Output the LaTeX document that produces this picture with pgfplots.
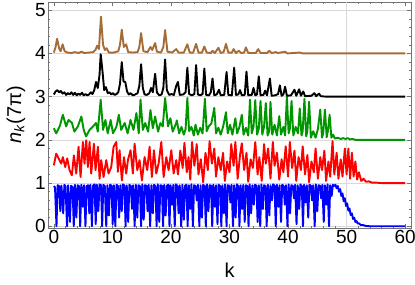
\documentclass[border=0pt]{standalone}
\usepackage{fontspec}
\setmainfont{Liberation Sans}
\usepackage{pgfplots}
\pgfplotsset{compat=1.18}
\definecolor{cbrown}{RGB}{165,108,55}
\definecolor{cgreen}{RGB}{0,150,0}
\begin{document}
\begin{tikzpicture}
\begin{axis}[
  scale only axis, width=363pt, height=226pt,
  xmin=-1, xmax=61, ymin=-0.04, ymax=5.19,
  xtick={0,10,...,60}, ytick={0,1,...,5},
  minor x tick num=4, minor y tick num=4,
  tick align=inside,
  major tick length=4.5pt, minor tick length=2.5pt,
  axis line style={black!55, line width=0.6pt},
  every tick/.style={black!55, line width=0.5pt},
  ymajorgrids, grid style={gray!30, line width=0.6pt},
  extra x ticks={50}, extra x tick labels={},
  extra x tick style={grid=major, major tick length=0pt},
  /pgf/number format/assume math mode=true,
  ticklabel style={font=\fontsize{19}{19}\selectfont},
  xticklabel style={inner sep=2pt},
  yticklabel style={inner sep=2pt},
  xlabel={k}, ylabel={\textit{n}\textsubscript{\textit{k}}(7π)},
  label style={font=\fontsize{20}{20}\selectfont},
  x label style={at={(axis description cs:0.5,-0.188)}, anchor=center},
  y label style={at={(axis description cs:-0.088,0.5)}, anchor=center, rotate=0},
  every axis plot/.append style={no markers, line width=1.9pt, line join=round},
]
% blue
\addplot[blue] coordinates {
(0,0.93)(0.2,0.9)(0.45,0.0)(0.65,0.95)(0.9,0.93)(1.1,0.35)(1.3,0.94)(1.6,0.3)(1.8,0.96)(2.0,0.92)
(2.25,0.0)(2.45,0.95)(2.75,0.1)(2.95,0.94)(3.2,0.9)(3.4,0.0)(3.6,0.96)(3.85,0.2)(4.05,0.95)(4.3,0.93)
(4.5,0.0)(4.7,0.96)(4.95,0.45)(5.15,0.95)(5.4,0.0)(5.6,0.93)(5.85,0.95)(6.05,0.3)(6.25,0.96)(6.5,0.0)
(6.7,0.94)(6.95,0.97)(7.15,0.05)(7.35,0.96)(7.6,0.35)(7.8,0.97)(8.05,0.95)(8.25,0.0)(8.45,0.96)(8.7,0.93)
(8.95,0.0)(9.15,0.95)(9.4,0.25)(9.6,0.96)(9.85,0.94)(10.05,0.05)(10.25,0.95)(10.5,0.0)(10.7,0.96)(10.95,0.93)
(11.15,0.2)(11.35,0.95)(11.6,0.35)(11.8,0.97)(12.05,0.94)(12.25,0.0)(12.45,0.95)(12.7,0.1)(12.9,0.96)(13.15,0.93)
(13.35,0.4)(13.55,0.95)(13.8,0.0)(14.0,0.96)(14.25,0.2)(14.45,0.95)(14.7,0.93)(14.9,0.0)(15.1,0.97)(15.35,0.15)
(15.55,0.95)(15.8,0.94)(16.0,0.35)(16.2,0.96)(16.45,0.0)(16.65,0.95)(16.9,0.3)(17.1,0.96)(17.35,0.93)(17.55,0.0)
(17.75,0.97)(18.0,0.1)(18.2,0.95)(18.45,0.94)(18.65,0.0)(18.85,0.96)(19.1,0.25)(19.3,0.94)(19.55,0.96)(19.75,0.0)
(19.95,0.95)(20.2,0.5)(20.4,0.96)(20.65,0.0)(20.85,0.97)(21.1,0.93)(21.3,0.3)(21.5,0.95)(21.75,0.0)(21.95,0.96)
(22.2,0.15)(22.4,0.94)(22.65,0.96)(22.85,0.0)(23.05,0.95)(23.3,0.4)(23.5,0.97)(23.75,0.0)(23.95,0.95)(24.2,0.93)
(24.4,0.6)(24.6,0.96)(24.85,0.0)(25.05,0.95)(25.3,0.2)(25.5,0.96)(25.75,0.93)(25.95,0.0)(26.15,0.97)(26.4,0.35)
(26.6,0.95)(26.85,0.94)(27.05,0.0)(27.25,0.96)(27.5,0.45)(27.7,0.95)(27.95,0.05)(28.15,0.96)(28.4,0.93)(28.6,0.0)
(28.8,0.95)(29.05,0.3)(29.25,0.97)(29.5,0.0)(29.7,0.95)(29.95,0.94)(30.15,0.55)(30.35,0.96)(30.6,0.0)(30.8,0.95)
(31.05,0.2)(31.25,0.97)(31.5,0.93)(31.7,0.0)(31.9,0.95)(32.15,0.4)(32.35,0.96)(32.6,0.1)(32.8,0.95)(33.05,0.93)
(33.25,0.0)(33.45,0.97)(33.7,0.3)(33.9,0.95)(34.15,0.5)(34.35,0.96)(34.6,0.94)(34.8,0.1)(35.0,0.95)(35.25,0.0)
(35.45,0.97)(35.7,0.4)(35.9,0.95)(36.15,0.93)(36.35,0.0)(36.55,0.96)(36.8,0.25)(37.0,0.95)(37.25,0.6)(37.45,0.97)
(37.7,0.94)(37.9,0.0)(38.1,0.96)(38.35,0.45)(38.55,0.95)(38.8,0.1)(39.0,0.96)(39.25,0.93)(39.45,0.5)(39.65,0.95)
(39.9,0.0)(40.1,0.97)(40.35,0.3)(40.55,0.95)(40.8,0.94)(41.0,0.65)(41.2,0.96)(41.45,0.05)(41.65,0.95)(41.9,0.4)
(42.1,0.97)(42.35,0.93)(42.55,0.0)(42.75,0.96)(43.0,0.55)(43.2,0.95)(43.45,0.2)(43.65,0.96)(43.9,0.94)(44.1,0.6)
(44.3,0.95)(44.55,0.0)(44.75,0.97)(45.0,0.35)(45.2,0.95)(45.45,0.94)(45.65,0.65)(45.85,0.96)(46.1,0.1)(46.3,0.95)
(46.55,0.5)(46.75,0.97)(47.0,0.0)(47.2,0.95)(47.45,0.7)(47.65,0.96)(47.9,0.93)(48.1,0.96)(48.3,0.88)(48.5,0.93)
(48.7,0.8)(48.9,0.86)(49.1,0.7)(49.3,0.76)(49.5,0.58)(49.7,0.65)(49.9,0.47)(50.1,0.53)(50.3,0.36)(50.5,0.41)
(50.7,0.26)(50.9,0.3)(51.1,0.17)(51.3,0.2)(51.5,0.1)(51.7,0.12)(51.9,0.06)(52.1,0.07)(52.4,0.03)(52.8,0.03)
(53.2,0.01)(54,0.0)(60,0.0)
};
% red
\addplot[red] coordinates {
(0,1.41)(0.4,1.68)(0.8,1.57)(1.25,1.45)(1.54,1.60)(1.94,1.37)(2.28,1.57)(2.68,1.30)(3.08,1.18)(3.42,1.64)
(3.82,1.22)(4.22,1.84)(4.56,1.14)(4.96,1.95)(5.24,1.45)(5.53,1.99)(5.81,1.37)(6.1,1.95)(6.38,1.22)(6.84,1.91)
(7.12,1.30)(7.52,1.84)(7.81,1.10)(8.09,1.53)(8.49,1.14)(8.95,1.53)(9.34,1.22)(9.8,1.37)(10.2,1.84)(10.66,1.95)
(10.94,1.26)(11.22,1.76)(11.62,1.06)(11.97,1.60)(12.36,1.22)(12.65,1.53)(13.1,1.76)(13.5,1.22)(13.79,1.91)(14.25,1.30)
(14.64,1.53)(15.04,1.06)(15.5,1.60)(15.95,1.30)(16.35,1.84)(16.75,1.14)(17.09,1.76)(17.49,1.22)(17.89,1.45)(18.35,1.95)
(18.75,1.14)(19.2,1.60)(19.6,1.30)(20.06,1.76)(20.46,1.22)(20.9,1.53)(21.2,1.2)(21.6,1.75)(22.0,1.35)(22.3,1.93)
(22.7,1.25)(23.0,1.6)(23.3,1.08)(23.6,1.95)(24.0,1.4)(24.4,1.9)(24.7,1.2)(25.1,1.55)(25.5,1.02)(25.9,1.7)
(26.3,1.3)(26.6,1.97)(27.0,1.45)(27.4,1.8)(27.7,1.15)(28.1,1.6)(28.5,1.3)(28.9,1.7)(29.2,1.05)(29.6,1.5)
(30.0,1.25)(30.3,1.9)(30.7,1.4)(31.0,1.95)(31.4,1.1)(31.8,1.65)(32.1,1.92)(32.5,1.3)(32.9,1.7)(33.2,1.03)
(33.6,1.55)(34.0,1.35)(34.4,1.95)(34.8,1.2)(35.1,1.6)(35.5,1.05)(35.9,1.9)(36.2,1.45)(36.6,1.8)(37.0,1.1)
(37.4,1.95)(37.7,1.4)(38.1,1.7)(38.5,1.08)(38.9,1.55)(39.2,1.25)(39.6,1.85)(40.0,1.15)(40.3,1.95)(40.7,1.35)
(41.1,1.75)(41.4,1.05)(41.8,1.6)(42.2,1.3)(42.5,1.85)(42.9,1.2)(43.3,1.65)(43.6,1.02)(44.0,1.5)(44.4,1.25)
(44.7,1.8)(45.1,1.1)(45.5,1.6)(45.8,1.3)(46.2,1.75)(46.5,1.05)(46.9,1.5)(47.2,1.15)(47.6,1.97)(47.9,1.2)
(48.3,1.7)(48.6,1.1)(49.0,1.55)(49.3,1.15)(49.7,1.8)(50.0,1.2)(50.3,1.8)(50.6,1.1)(50.9,1.7)(51.2,1.15)
(51.5,1.5)(51.8,1.08)(52.1,1.25)(52.5,1.05)(52.9,1.1)(53.3,1.03)(53.8,1.04)(54.3,1.01)(55,1.01)(56,1.0)(60,1.0)
};
% green
\addplot[cgreen] coordinates {
(0,2.27)(0.4,2.15)(1.0,2.31)(1.54,2.58)(2.1,2.31)(2.5,2.46)(3.1,2.39)(3.5,2.19)(4.1,2.31)(4.7,2.54)
(5.1,2.23)(5.5,2.08)(6.1,2.23)(6.7,2.31)(7.2,2.39)(7.5,2.19)(8.0,2.93)(8.4,2.23)(8.8,2.46)(9.2,2.15)
(9.7,2.46)(10.1,2.15)(10.7,2.31)(11.1,2.58)(11.5,2.23)(12.1,2.39)(12.6,2.15)(13.1,2.46)(13.6,2.23)(14.1,2.62)
(14.5,2.15)(14.8,2.93)(15.2,2.23)(15.6,2.39)(16.1,2.19)(16.5,2.69)(16.9,2.27)(17.3,2.54)(17.8,2.19)(18.2,2.39)
(18.6,2.31)(19.0,2.97)(19.5,2.31)(19.9,2.5)(20.3,2.19)(20.9,2.39)(21.0,2.45)(21.4,2.15)(21.8,2.3)(22.2,2.12)
(22.5,2.25)(22.8,2.97)(23.1,2.2)(23.5,2.3)(23.9,2.1)(24.2,2.35)(24.6,2.12)(25.0,2.28)(25.4,2.15)(25.8,2.95)
(26.1,2.2)(26.5,2.32)(26.9,2.38)(27.4,2.74)(27.7,2.15)(28.1,2.28)(28.5,2.12)(28.9,2.3)(29.4,2.64)(29.7,2.15)
(30.1,2.35)(30.5,2.12)(31.0,2.5)(31.3,2.15)(31.7,2.3)(32.1,2.58)(32.4,2.12)(32.8,2.28)(33.2,2.1)(33.5,2.93)
(33.8,2.15)(34.1,2.3)(34.4,2.92)(34.7,2.12)(35.0,2.25)(35.3,2.9)(35.6,2.12)(35.9,2.3)(36.2,2.85)(36.5,2.1)
(36.8,2.2)(37.0,2.88)(37.3,2.12)(37.7,2.35)(38.1,2.1)(38.5,2.55)(38.8,2.12)(39.2,2.3)(39.5,2.1)(39.8,3.0)
(40.1,2.15)(40.3,2.25)(40.6,2.9)(40.9,2.1)(41.3,2.3)(41.7,2.15)(42.0,2.73)(42.3,2.1)(42.5,2.2)(42.8,2.95)
(43.1,2.08)(43.3,2.2)(43.6,2.88)(43.9,2.05)(44.3,2.2)(44.7,2.05)(45.1,2.25)(45.5,2.7)(45.8,2.05)(46.0,2.15)
(46.3,2.7)(46.6,2.06)(46.8,2.2)(47.1,2.58)(47.4,2.05)(47.7,2.12)(48.0,2.03)(48.5,2.05)(49.0,2.02)(49.4,2.04)
(49.8,2.02)(50.2,2.04)(50.6,2.01)(51.0,2.02)(51.5,2.0)(60,2.0)
};
% black
\addplot[black] coordinates {
(0,3.05)(0.3,3.12)(0.6,3.15)(0.9,3.1)(1.2,3.13)(1.5,3.07)(1.8,3.1)(2.1,3.04)(2.4,3.08)(2.7,3.05)
(3.0,3.1)(3.3,3.04)(3.6,3.09)(3.9,3.03)(4.2,3.07)(4.5,3.04)(4.8,3.09)(5.1,3.03)(5.4,3.06)(5.7,3.03)
(6.0,3.05)(6.3,3.1)(6.6,3.06)(6.9,3.15)(7.2,3.34)(7.5,3.2)(7.8,3.5)(8.0,3.98)(8.3,3.6)(8.6,3.15)
(8.9,3.22)(9.2,3.08)(9.5,3.1)(9.8,3.05)(10.1,3.08)(10.4,3.04)(10.7,3.06)(11.0,3.1)(11.3,3.3)(11.6,3.8)
(11.9,3.35)(12.2,3.34)(12.5,3.12)(12.8,3.05)(13.1,3.08)(13.5,3.03)(13.9,3.05)(14.3,3.08)(14.6,3.25)(14.9,3.75)
(15.2,3.2)(15.5,3.05)(15.9,3.04)(16.3,3.08)(16.6,3.2)(16.9,3.1)(17.3,3.53)(17.6,3.1)(18.0,3.03)(18.4,3.05)
(18.7,3.2)(19.0,3.86)(19.3,3.15)(19.7,3.04)(20.1,3.06)(20.5,3.04)(20.9,3.25)(21.2,3.34)(21.5,3.04)(22.1,3.05)
(22.5,3.1)(22.8,3.67)(23.1,3.06)(23.6,3.03)(24.0,3.06)(24.3,3.73)(24.6,3.05)(25.0,3.03)(25.4,3.06)(25.7,3.65)
(26.0,3.04)(26.5,3.03)(26.8,3.1)(27.1,3.42)(27.4,3.03)(27.8,3.05)(28.2,3.16)(28.5,3.03)(29.1,3.04)(29.5,3.57)
(29.8,3.04)(30.4,3.03)(30.8,3.67)(31.1,3.04)(31.5,3.05)(31.8,3.15)(32.1,3.03)(32.6,3.04)(32.9,3.58)(33.2,3.03)
(33.8,3.04)(34.1,3.2)(34.4,3.03)(34.7,3.05)(35.0,3.47)(35.3,3.03)(35.8,3.04)(36.1,3.14)(36.4,3.03)(36.9,3.42)
(37.2,3.02)(37.8,3.03)(38.3,3.06)(38.6,3.26)(38.9,3.02)(39.2,3.05)(39.5,3.23)(39.8,3.02)(40.5,3.03)(41.1,3.16)
(41.4,3.02)(41.9,3.17)(42.2,3.02)(42.6,3.12)(42.9,3.01)(44.0,3.02)(44.5,3.08)(44.8,3.01)(45.3,3.07)(45.6,3.01)
(46.5,3.0)(60,3.0)
};
% brown
\addplot[cbrown] coordinates {
(0,4.02)(0.3,4.15)(0.55,4.34)(0.9,4.12)(1.15,4.05)(1.5,4.21)(1.85,4.05)(2.3,4.02)(3,4.01)(3.6,4.03)
(4.2,4.01)(4.7,4.04)(5.2,4.01)(6,4.02)(6.7,4.03)(7.1,4.08)(7.4,4.18)(7.7,4.1)(8.05,4.85)(8.4,4.2)
(8.7,4.08)(9.0,4.12)(9.4,4.02)(10.2,4.02)(11.0,4.05)(11.3,4.2)(11.6,4.55)(11.95,4.15)(12.35,4.21)(12.7,4.03)
(13.5,4.02)(14.3,4.03)(14.6,4.15)(14.9,4.47)(15.3,4.05)(16.0,4.03)(16.5,4.15)(16.8,4.08)(17.3,4.24)(17.6,4.04)
(18.3,4.02)(18.7,4.15)(19.0,4.54)(19.4,4.04)(20.2,4.02)(20.9,4.1)(21.3,4.02)(22.2,4.02)(22.8,4.21)(23.2,4.02)
(23.8,4.02)(24.3,4.22)(24.7,4.02)(25.3,4.02)(25.7,4.16)(26.1,4.02)(26.8,4.01)(27.1,4.06)(27.5,4.01)(28.1,4.13)
(28.5,4.01)(29.0,4.03)(29.4,4.22)(29.8,4.02)(30.4,4.02)(30.7,4.1)(31.1,4.01)(31.6,4.06)(32.0,4.01)(32.5,4.02)
(32.8,4.14)(33.2,4.01)(34.5,4.01)(34.9,4.1)(35.3,4.01)(36.4,4.01)(36.8,4.06)(37.2,4.01)(37.9,4.03)(38.3,4.01)
(39.5,4.04)(39.9,4.0)(42,4.02)(42.5,4.0)(60,4.0)
};
\end{axis}
\pgfresetboundingbox
\path ([xshift=-48pt,yshift=-56pt]current axis.south west) rectangle ([xshift=4pt,yshift=2pt]current axis.north east);
\end{tikzpicture}
\end{document}
